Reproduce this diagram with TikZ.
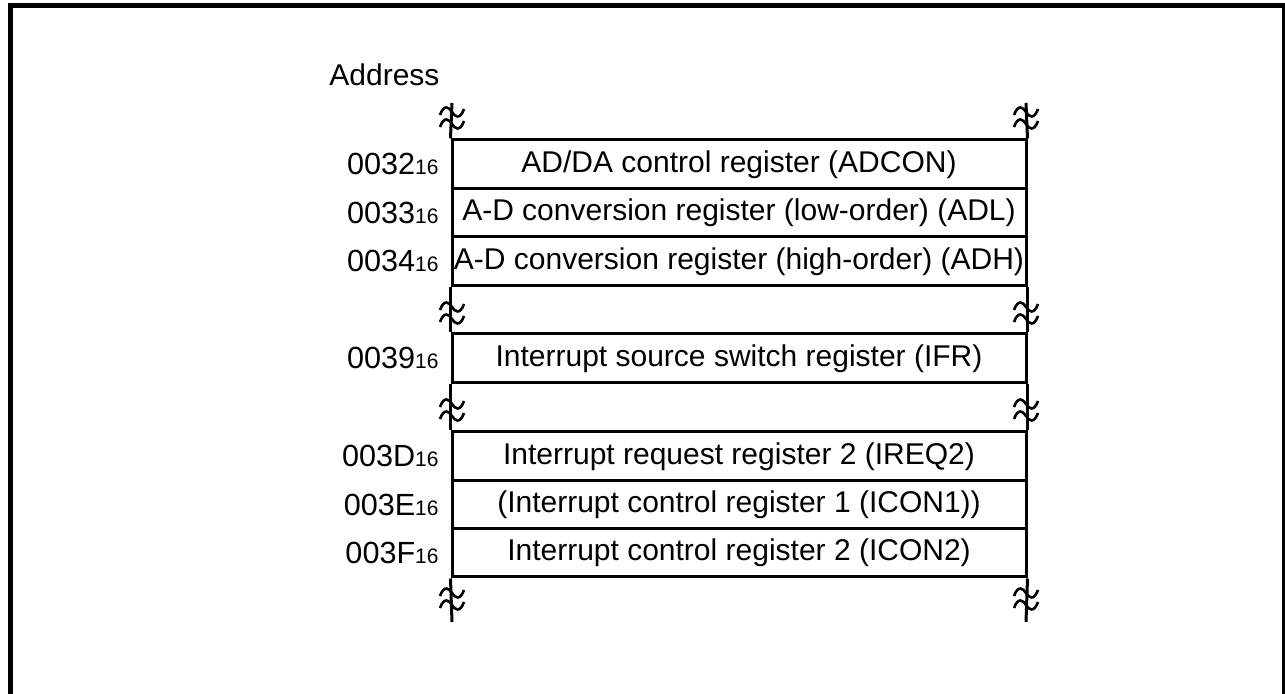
\documentclass[tikz,border=0pt]{standalone}
\usepackage{fontspec}
\setmainfont{Liberation Sans}
\newcommand\hexsub[1]{{\fontsize{10.5}{12}\selectfont #1}}
\newcommand\tldat[2]{\draw[line width=1.3pt, shift={(#1,#2)}] (-12,3) .. controls (-8,-8) and (-3,-5) .. (0,0) .. controls (3,5) and (8,8) .. (12,-3);}
\tikzset{
  reg/.style={draw, line width=1.5pt, minimum width=287pt, inner sep=0pt, font=\fontsize{15}{18}\selectfont},
  addr/.style={anchor=east, inner sep=0pt, font=\fontsize{15.3}{18}\selectfont},
  brkline/.style={line width=1.5pt}
}
\begin{document}
\begin{tikzpicture}[x=0.5pt,y=-0.5pt]
\useasboundingbox (0,0) rectangle (1285,694);
\clip (0,0) rectangle (1285,694);
\draw[line width=2.5pt] (10.5,720) -- (10.5,6) -- (1284.5,6) -- (1284.5,720);

\node[anchor=west, inner sep=0pt, font=\fontsize{15}{18}\selectfont] (hdr) at (329,75) {Address};

\node[reg, minimum height=24.5pt] (r1) at (739,164.5) {AD/DA control register (ADCON)};
\node[reg, minimum height=24pt] (r2) at (739,213) {A-D conversion register (low-order) (ADL)};
\node[reg, minimum height=24.5pt] (r3) at (739,261.5) {A-D conversion register (high-order) (ADH)};
\node[reg, minimum height=24.5pt] (r4) at (739,358.5) {Interrupt source switch register (IFR)};
\node[reg, minimum height=24.5pt] (r5) at (739,456.5) {Interrupt request register 2 (IREQ2)};
\node[reg, minimum height=24pt] (r6) at (739,505) {(Interrupt control register 1 (ICON1))};
\node[reg, minimum height=24pt] (r7) at (739,553) {Interrupt control register 2 (ICON2)};

\node[addr] (a1) at (439,164) {0032\hexsub{16}};
\node[addr] (a2) at (439,212.5) {0033\hexsub{16}};
\node[addr] (a3) at (439,261) {0034\hexsub{16}};
\node[addr] (a4) at (439,358) {0039\hexsub{16}};
\node[addr] (a5) at (439,456) {003D\hexsub{16}};
\node[addr] (a6) at (439,504.5) {003E\hexsub{16}};
\node[addr] (a7) at (439,552.5) {003F\hexsub{16}};

% breaks
\foreach \s/\e in {west/452, east/1026}{
  \draw[brkline] (r1.north \s) -- (\e,103);
  \tldat{\e}{112} \tldat{\e}{124}
  \draw[brkline] (r3.south \s) -- (r4.north \s);
  \tldat{\e}{307} \tldat{\e}{319}
  \draw[brkline] (r4.south \s) -- (r5.north \s);
  \tldat{\e}{404} \tldat{\e}{416}
  \draw[brkline] (r7.south \s) -- (\e,622);
  \tldat{\e}{593} \tldat{\e}{605}
}
\end{tikzpicture}
\end{document}
